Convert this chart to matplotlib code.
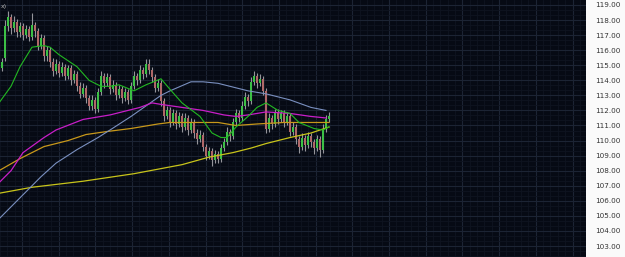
import numpy as np

import matplotlib
matplotlib.use("Agg")
import matplotlib.pyplot as plt
from matplotlib.ticker import FixedLocator


# daily candles (price units)
OPENS = [
    114.8, 115.5, 117.6, 118.2, 117.5, 117.9, 117.2, 117.6, 117.0, 117.4,
    116.9, 117.7, 117.3, 116.3, 116.8, 115.6, 116.0, 115.2, 114.6, 115.1,
    114.5, 114.9, 114.3, 114.8, 114.0, 114.4, 113.6, 113.1, 113.5, 112.8,
    112.3, 112.7, 112.1, 113.2, 114.3, 113.8, 114.2, 113.4, 113.7, 113.0,
    113.4, 112.8, 113.2, 112.7, 113.6, 114.3, 114.0, 114.7, 114.4, 115.1,
    114.7, 114.2, 113.5, 113.8, 112.6, 111.6, 112.0, 111.2, 111.8, 111.1,
    111.6, 110.9, 111.5, 110.7, 111.2, 110.5, 110.1, 110.4, 109.6, 109.0,
    109.3, 108.7, 109.1, 108.8, 109.5, 109.9, 110.6, 110.3, 111.2, 111.8,
    111.5, 112.3, 112.9, 112.6, 113.9, 114.3, 113.8, 114.1, 113.3, 110.8,
    111.5, 111.1, 111.9, 111.4, 111.8, 111.2, 111.6, 110.6, 110.9, 110.1,
    109.6, 110.2, 109.7, 110.3, 109.9, 109.5, 110.1, 109.4, 110.8, 111.4,
]
CLOSES = [
    115.2, 117.6, 118.2, 117.5, 117.9, 117.2, 117.6, 117.0, 117.4, 116.9,
    117.7, 117.3, 116.3, 116.8, 115.6, 116.0, 115.2, 114.6, 115.1, 114.5,
    114.9, 114.3, 114.8, 114.0, 114.4, 113.6, 113.1, 113.5, 112.8, 112.3,
    112.7, 112.1, 113.2, 114.3, 113.8, 114.2, 113.4, 113.7, 113.0, 113.4,
    112.8, 113.2, 112.7, 113.6, 114.3, 114.0, 114.7, 114.4, 115.1, 114.7,
    114.2, 113.5, 113.8, 112.6, 111.6, 112.0, 111.2, 111.8, 111.1, 111.6,
    110.9, 111.5, 110.7, 111.2, 110.5, 110.1, 110.4, 109.6, 109.0, 109.3,
    108.7, 109.1, 108.8, 109.5, 109.9, 110.6, 110.3, 111.2, 111.8, 111.5,
    112.3, 112.9, 112.6, 113.9, 114.3, 113.8, 114.1, 113.3, 110.8, 111.5,
    111.1, 111.9, 111.4, 111.8, 111.2, 111.6, 110.6, 110.9, 110.1, 109.6,
    110.2, 109.7, 110.3, 109.9, 109.5, 110.1, 109.4, 110.8, 111.4, 111.6,
]
HIGHS = [
    115.5, 118.0, 118.6, 118.4, 118.3, 118.1, 117.9, 117.8, 117.7, 117.6,
    118.5, 117.9, 117.5, 117.1, 117.0, 116.3, 116.2, 115.5, 115.4, 115.3,
    115.2, 115.1, 115.0, 115.0, 114.7, 114.6, 113.9, 113.8, 113.7, 113.0,
    113.0, 112.9, 113.5, 114.6, 114.5, 114.5, 114.4, 114.0, 113.9, 113.7,
    113.6, 113.5, 113.4, 113.9, 114.6, 114.5, 115.0, 114.9, 115.4, 115.4,
    114.9, 114.4, 114.1, 114.0, 112.8, 112.3, 112.2, 112.1, 112.0, 111.9,
    111.8, 111.8, 111.7, 111.5, 111.4, 110.8, 110.7, 110.6, 109.8, 109.6,
    109.5, 109.4, 109.3, 109.8, 110.2, 110.9, 110.8, 111.5, 112.1, 112.0,
    112.6, 113.2, 113.1, 114.2, 114.6, 114.5, 114.4, 114.3, 113.5, 111.8,
    111.7, 112.1, 112.1, 112.0, 112.0, 111.9, 111.8, 111.2, 111.1, 110.3,
    110.5, 110.4, 110.6, 110.5, 110.1, 110.4, 110.3, 111.1, 111.7, 111.9,
]
LOWS = [
    114.6, 115.3, 117.3, 117.1, 117.2, 116.9, 116.9, 116.7, 116.8, 116.6,
    116.7, 116.9, 116.0, 116.1, 115.3, 115.3, 114.9, 114.3, 114.4, 114.2,
    114.3, 114.0, 114.1, 113.7, 113.8, 113.3, 112.8, 112.9, 112.5, 112.0,
    112.0, 111.8, 111.9, 113.0, 113.5, 113.6, 113.1, 113.2, 112.7, 112.8,
    112.5, 112.6, 112.4, 112.5, 113.4, 113.7, 113.8, 114.1, 114.2, 114.4,
    113.9, 113.2, 113.3, 112.3, 111.3, 111.4, 110.9, 111.0, 110.8, 110.9,
    110.6, 110.7, 110.4, 110.5, 110.2, 109.8, 109.9, 109.3, 108.7, 108.8,
    108.3, 108.5, 108.5, 108.6, 109.3, 109.7, 110.0, 110.1, 111.0, 111.2,
    111.3, 112.1, 112.3, 112.4, 113.7, 113.5, 113.6, 113.0, 110.5, 110.6,
    110.8, 110.9, 111.1, 111.2, 110.9, 111.0, 110.3, 110.4, 109.8, 109.2,
    109.4, 109.3, 109.5, 109.6, 109.1, 109.3, 108.9, 109.2, 110.6, 111.2,
]

# moving averages, sampled along the lines (x in candle index)
MA_GREEN_X = [-1, 3, 6, 10, 14, 16, 19, 22, 25, 29, 33, 36, 39, 44, 48, 53,
              56, 60, 66, 70, 73, 75, 78, 82, 85, 88, 92, 96, 99, 104, 107, 109]
MA_GREEN = [112.5, 113.6, 114.9, 116.2, 116.3, 116.2, 115.7, 115.3, 114.9, 114.0,
            113.6, 113.6, 113.7, 113.3, 113.7, 114.1, 113.4, 112.5, 111.6, 110.5,
            110.2, 110.2, 110.9, 111.6, 112.2, 112.5, 112.0, 111.8, 111.2, 110.8,
            110.7, 110.9]
MA_BLUE_X = [-1, 6, 13, 18, 25, 32, 36, 43, 48, 53, 56, 63, 67, 72, 78, 82, 88,
             96, 103, 108]
MA_BLUE = [104.8, 106.2, 107.6, 108.5, 109.4, 110.2, 110.7, 111.6, 112.3, 113.0,
           113.3, 113.9, 113.9, 113.8, 113.5, 113.3, 113.1, 112.7, 112.2, 112.0]
MA_MAGENTA_X = [-1, 3, 7, 14, 18, 27, 36, 46, 50, 53, 60, 67, 74, 78, 82, 88,
                96, 103, 108]
MA_MAGENTA = [107.2, 108.0, 109.2, 110.2, 110.7, 111.4, 111.7, 112.2, 112.5, 112.4,
              112.2, 112.0, 111.7, 111.6, 111.7, 111.9, 111.8, 111.6, 111.5]
MA_ORANGE_X = [-1, 6, 14, 22, 28, 35, 43, 52, 56, 63, 72, 78, 85, 94, 99, 109]
MA_ORANGE = [108.0, 108.8, 109.6, 110.0, 110.4, 110.6, 110.8, 111.1, 111.2, 111.2,
             111.2, 111.0, 111.1, 111.2, 111.2, 111.2]
MA_YELLOW_X = [-1, 10, 27, 44, 60, 69, 77, 83, 88, 96, 103, 109]
MA_YELLOW = [106.5, 106.9, 107.3, 107.8, 108.4, 108.9, 109.2, 109.5, 109.8, 110.2,
             110.5, 110.9]

PRICE_TICKS = list(range(103, 120))

BG = "#060a14"
UP = "#3cc046"
DOWN = "#b06868"


def main():
    fig = plt.figure(figsize=(6.25, 2.57), dpi=100, facecolor="#fafafa")
    ax = fig.add_axes([0, 0, 586 / 625, 1])
    ax.set_facecolor(BG)

    idx = np.arange(len(CLOSES))
    o = np.array(OPENS)
    c = np.array(CLOSES)

    # grid: one major line per price unit, weekly-ish columns
    ax.yaxis.set_major_locator(FixedLocator(PRICE_TICKS))
    ax.yaxis.set_minor_locator(FixedLocator(np.arange(102, 120, 1 / 3)))
    col = 36.7 / 3
    ax.xaxis.set_major_locator(FixedLocator(np.arange(6.67 - col, 200, col)))
    ax.xaxis.set_minor_locator(FixedLocator(np.arange(6.67 - col, 200, col / 5)))
    ax.grid(True, which="major", color="#1c2434", linewidth=0.8, zorder=0)
    ax.grid(True, which="minor", color="#0f1420", linewidth=0.6, zorder=0)
    ax.set_axisbelow(True)

    # candles
    ax.vlines(idx, LOWS, HIGHS, color="#94949a", linewidth=0.8, zorder=2)
    colors = [UP if cc >= oo else DOWN for oo, cc in zip(o, c)]
    ax.bar(idx, np.maximum(np.abs(c - o), 0.05), bottom=np.minimum(o, c),
           width=0.6, color=colors, linewidth=0, zorder=3)

    # moving averages
    ax.plot(MA_YELLOW_X, MA_YELLOW, color="#c8c41a", linewidth=0.9, zorder=4)
    ax.plot(MA_ORANGE_X, MA_ORANGE, color="#c8981a", linewidth=0.9, zorder=4)
    ax.plot(MA_BLUE_X, MA_BLUE, color="#7a90c0", linewidth=0.8, zorder=4)
    ax.plot(MA_MAGENTA_X, MA_MAGENTA, color="#c81ec8", linewidth=0.9, zorder=4)
    ax.plot(MA_GREEN_X, MA_GREEN, color="#22b822", linewidth=0.8, zorder=4)

    ax.set_xlim(-0.67, 194.67)
    ax.set_ylim(102.27, 119.33)

    ax.yaxis.tick_right()
    ax.set_yticklabels([f"{p:.2f}" for p in PRICE_TICKS])
    ax.tick_params(axis="y", which="both", length=0, pad=6.5,
                   labelsize=5.2, labelcolor="#333333")
    ax.tick_params(axis="x", which="both", length=0, labelbottom=False)
    for spine in ax.spines.values():
        spine.set_visible(False)

    ax.text(0.002, 0.985, "x)", transform=ax.transAxes, color="#bbbbbb",
            fontsize=4.5, va="top", ha="left")

    fig.savefig("out.png", dpi=100, facecolor=fig.get_facecolor())
    plt.close(fig)


if __name__ == "__main__":
    main()
